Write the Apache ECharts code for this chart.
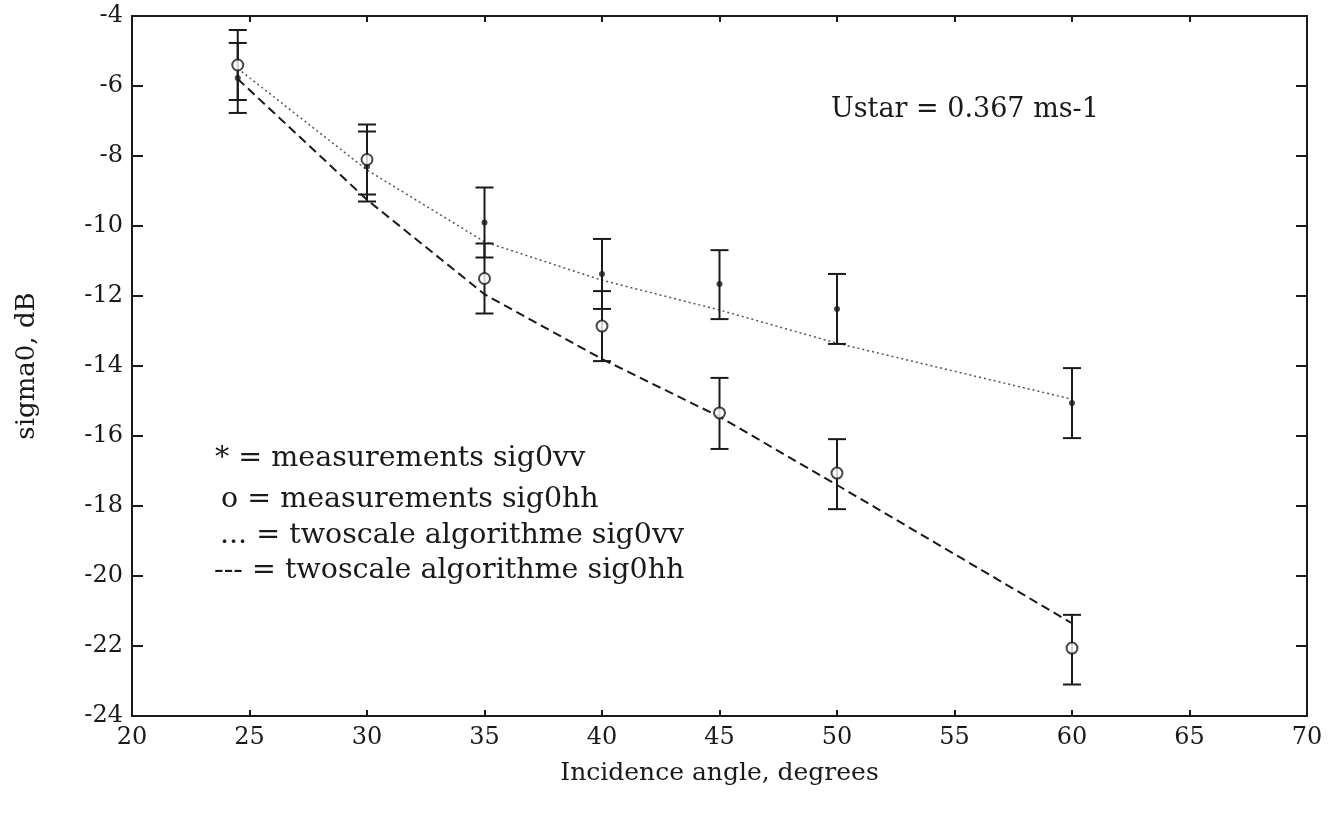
<!DOCTYPE html>
<html>
<head>
<meta charset="utf-8">
<script src="https://cdn.jsdelivr.net/npm/echarts@6/dist/echarts.min.js"></script>
<style>
  html, body { margin: 0; padding: 0; background: #fff; }
  #main { width: 1342px; height: 823px; }
</style>
</head>
<body>
<div id="main"></div>
<script>
// incidence angles (degrees)
var angles = [24.5, 30, 35, 40, 45, 50, 60];
// measurements, dB
var vvMeas = [-5.77, -8.3, -9.9, -11.37, -11.66, -12.37, -15.06];
var hhMeas = [-5.4, -8.1, -11.5, -12.86, -15.34, -17.06, -22.06];
// error bar ends
var vvHigh = [-4.77, -7.3, -8.9, -10.37, -10.69, -11.37, -14.06];
var vvLow = [-6.77, -9.3, -10.9, -12.37, -12.66, -13.37, -16.06];
var hhHigh = [-4.4, -7.1, -10.5, -11.86, -14.34, -16.09, -21.11];
var hhLow = [-6.4, -9.1, -12.5, -13.86, -16.37, -18.09, -23.1];
// twoscale model
var vvModel = [-5.5, -8.4, -10.45, -11.55, -12.4, -13.35, -14.95];
var hhModel = [-5.8, -9.25, -11.95, -13.8, -15.45, -17.4, -21.35];

var legendLines = [
  '* = measurements sig0vv',
  'o = measurements sig0hh',
  '... = twoscale algorithme sig0vv',
  '--- = twoscale algorithme sig0hh'
];
var ustarText = 'Ustar = 0.367 ms-1';

var font = '"DejaVu Serif", serif';
var ink = '#1a1a1a';

function pairs(xs, ys) {
  return xs.map(function (x, i) { return [x, ys[i]]; });
}

function errData(low, high) {
  return angles.map(function (x, i) { return [x, low[i], high[i]]; });
}

// vertical bar with a cap at each end
function renderErr(params, api) {
  var lo = api.coord([api.value(0), api.value(1)]);
  var hi = api.coord([api.value(0), api.value(2)]);
  var w = 9;
  var st = { stroke: ink, lineWidth: 2 };
  return {
    type: 'group',
    children: [
      { type: 'line', shape: { x1: lo[0], y1: lo[1], x2: hi[0], y2: hi[1] }, style: st },
      { type: 'line', shape: { x1: lo[0] - w, y1: lo[1], x2: lo[0] + w, y2: lo[1] }, style: st },
      { type: 'line', shape: { x1: hi[0] - w, y1: hi[1], x2: hi[0] + w, y2: hi[1] }, style: st }
    ]
  };
}

var chart = echarts.init(document.getElementById('main'));

var tops = [444, 485, 521, 556];
var lefts = [215, 221, 220, 214];
var legendText = legendLines.map(function (t, i) {
  return {
    type: 'text',
    left: lefts[i],
    top: tops[i],
    style: { text: t, font: '28.5px ' + font, fill: ink }
  };
});

var boxAxis = {
  axisLine: { lineStyle: { color: ink, width: 2 } },
  axisLabel: { show: false },
  splitLine: { show: false }
};

chart.setOption({
  animation: false,
  backgroundColor: '#fff',
  grid: { left: 132, right: 35, top: 16, bottom: 107 },
  xAxis: [{
    type: 'value', min: 20, max: 70, interval: 5,
    name: 'Incidence angle, degrees', nameLocation: 'middle', nameGap: 45,
    nameTextStyle: { fontFamily: font, fontSize: 25, color: ink },
    axisLine: { lineStyle: { color: ink, width: 2 } },
    axisTick: { inside: true, length: 6, lineStyle: { color: ink, width: 2 } },
    axisLabel: { margin: 10, fontFamily: font, fontSize: 24, color: ink },
    splitLine: { show: false }
  }, Object.assign({
    type: 'value', min: 20, max: 70, interval: 5, position: 'top',
    axisTick: { inside: true, length: 6, lineStyle: { color: ink, width: 2 } }
  }, boxAxis)],
  yAxis: [{
    type: 'value', min: -24, max: -4, interval: 2,
    name: 'sigma0, dB', nameLocation: 'middle', nameGap: 92,
    nameTextStyle: { fontFamily: font, fontSize: 26, color: ink },
    axisLine: { lineStyle: { color: ink, width: 2 } },
    axisTick: { inside: true, length: 11, lineStyle: { color: ink, width: 2 } },
    axisLabel: { margin: 9, fontFamily: font, fontSize: 24, color: ink },
    splitLine: { show: false }
  }, Object.assign({
    type: 'value', min: -24, max: -4, interval: 2, position: 'right',
    axisTick: { inside: true, length: 11, lineStyle: { color: ink, width: 2 } }
  }, boxAxis)],
  graphic: legendText.concat([{
    type: 'text',
    left: 831,
    top: 96,
    style: { text: ustarText, font: '27px ' + font, fill: ink }
  }]),
  series: [{
    name: 'twoscale sig0vv',
    type: 'line',
    data: pairs(angles, vvModel),
    symbol: 'none',
    lineStyle: { color: '#555', width: 1.5, type: [2, 3] },
    z: 2
  }, {
    name: 'twoscale sig0hh',
    type: 'line',
    data: pairs(angles, hhModel),
    symbol: 'none',
    lineStyle: { color: ink, width: 2, type: [9, 5] },
    z: 2
  }, {
    name: 'vv error',
    type: 'custom',
    renderItem: renderErr,
    data: errData(vvLow, vvHigh),
    encode: { x: 0, y: [1, 2] },
    z: 3
  }, {
    name: 'hh error',
    type: 'custom',
    renderItem: renderErr,
    data: errData(hhLow, hhHigh),
    encode: { x: 0, y: [1, 2] },
    z: 3
  }, {
    name: 'measurements sig0vv',
    type: 'scatter',
    data: pairs(angles, vvMeas),
    symbol: 'circle',
    symbolSize: 6,
    itemStyle: { color: ink },
    z: 4
  }, {
    name: 'measurements sig0hh',
    type: 'scatter',
    data: pairs(angles, hhMeas),
    symbol: 'circle',
    symbolSize: 11,
    itemStyle: { color: '#fff', borderColor: ink, borderWidth: 2 },
    z: 5
  }]
});
</script>
</body>
</html>
